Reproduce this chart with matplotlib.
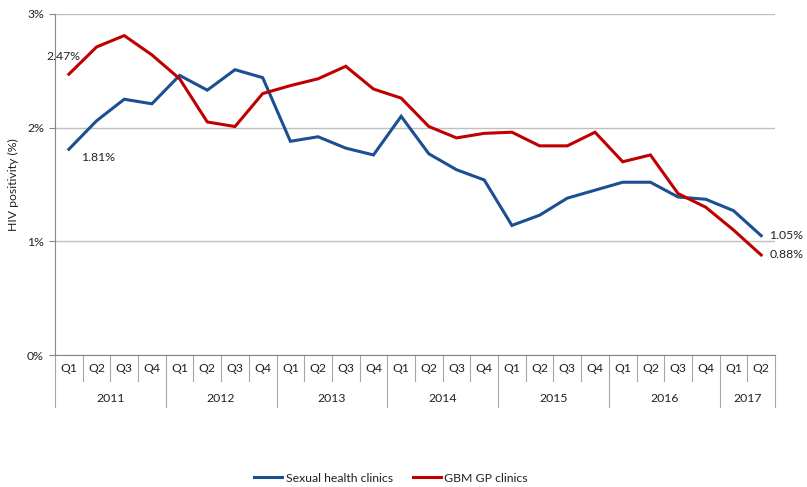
import numpy as np
import matplotlib.pyplot as plt
from matplotlib.transforms import blended_transform_factory

years = ['2011', '2012', '2013', '2014', '2015', '2016', '2017']
quarters_per_year = [4, 4, 4, 4, 4, 4, 2]
quarter_labels = ['Q1', 'Q2', 'Q3', 'Q4'] * 6 + ['Q1', 'Q2']

sexual_health = [1.81, 2.06, 2.25, 2.21, 2.46, 2.33, 2.51, 2.44,
                 1.88, 1.92, 1.82, 1.76, 2.10, 1.77, 1.63, 1.54,
                 1.14, 1.23, 1.38, 1.45, 1.52, 1.52, 1.39, 1.37,
                 1.27, 1.05]
gbm_gp = [2.47, 2.71, 2.81, 2.64, 2.43, 2.05, 2.01, 2.30,
          2.37, 2.43, 2.54, 2.34, 2.26, 2.01, 1.91, 1.95,
          1.96, 1.84, 1.84, 1.96, 1.70, 1.76, 1.42, 1.30,
          1.10, 0.88]

plt.rcParams['font.family'] = ['Lato', 'DejaVu Sans']
blue = '#1B4F93'
red = '#C00000'
txt = '#222222'
fs = 8.8

fig = plt.figure(figsize=(8.07, 4.87), dpi=100)
ax = fig.add_axes([55 / 807, 1 - 355 / 487, 720 / 807, 341 / 487])

x = np.arange(len(quarter_labels))
ax.plot(x, sexual_health, color=blue, lw=2.2, label='Sexual health clinics', solid_joinstyle='miter')
ax.plot(x, gbm_gp, color=red, lw=2.2, label='GBM GP clinics', solid_joinstyle='miter')

ax.set_xlim(-0.5, len(x) - 0.5)
ax.set_ylim(0, 3)
ax.set_yticks([0, 1, 2, 3])
ax.set_yticklabels(['0%', '1%', '2%', '3%'])
ax.tick_params(axis='y', length=4, color='#878787', labelsize=fs, labelcolor=txt, pad=4)
ax.set_xticks([])
ax.yaxis.grid(True, color='#BFBFBF', lw=1)
ax.set_axisbelow(True)
for s in ['top', 'right']:
    ax.spines[s].set_visible(False)
ax.spines['left'].set_color('#878787')
ax.spines['bottom'].set_color('#878787')
ax.set_ylabel('HIV positivity (%)', fontsize=fs, color=txt, labelpad=6)

# two-level category axis
trans = blended_transform_factory(ax.transData, ax.transAxes)
h = 341
q_bot = -26 / h
y_bot = -52 / h
for i, q in enumerate(quarter_labels):
    ax.text(i, -13 / h, q, transform=trans, ha='center', va='center', fontsize=fs, color=txt)
year_edges = np.concatenate([[0], np.cumsum(quarters_per_year)]) - 0.5
for b in np.arange(-0.5, len(x), 1.0):
    bot = y_bot if b in year_edges else q_bot
    ax.plot([b, b], [0, bot], transform=trans, color='#A6A6A6', lw=0.8, clip_on=False)
for yr, a, b in zip(years, year_edges[:-1], year_edges[1:]):
    ax.text((a + b) / 2, -43 / h, yr, transform=trans, ha='center', va='center', fontsize=fs, color=txt)

# end-point labels
ax.annotate(f'{gbm_gp[0]:.2f}%', (0, gbm_gp[0]), xytext=(-16, 13), textcoords='offset points',
            fontsize=fs, color=txt, va='center')
ax.annotate(f'{sexual_health[0]:.2f}%', (0, sexual_health[0]), xytext=(9, -6), textcoords='offset points',
            fontsize=fs, color=txt, va='center')
ax.annotate(f'{sexual_health[-1]:.2f}%', (x[-1], sexual_health[-1]), xytext=(6, 0), textcoords='offset points',
            fontsize=fs, color=txt, va='center')
ax.annotate(f'{gbm_gp[-1]:.2f}%', (x[-1], gbm_gp[-1]), xytext=(6, 0), textcoords='offset points',
            fontsize=fs, color=txt, va='center')

fig.legend(loc='center', bbox_to_anchor=(391 / 807, 1 - 478 / 487), ncol=2, frameon=False,
           fontsize=fs, handlelength=2.3, handletextpad=0.3, columnspacing=1.6, labelcolor=txt)

fig.savefig('out.png', dpi=100)
